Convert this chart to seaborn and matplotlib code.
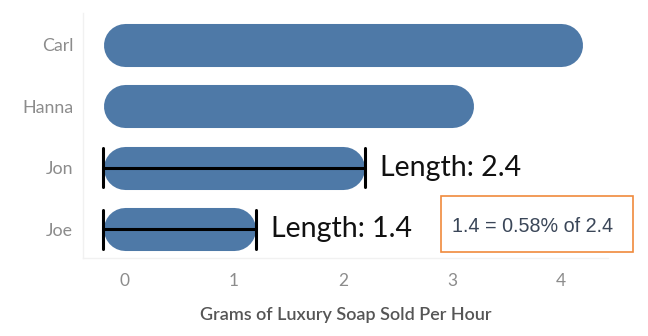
import matplotlib
matplotlib.use("Agg")
import matplotlib.pyplot as plt
from matplotlib.patches import Rectangle
import seaborn as sns
import pandas as pd

# ---- data ----
names = ["Carl", "Hanna", "Jon", "Joe"]
values = [4, 3, 2, 1]
x_ticks = [0, 1, 2, 3, 4]
measured_names = ["Jon", "Joe"]
measured_lengths = [2.4, 1.4]
x_label = "Grams of Luxury Soap Sold Per Hour"
note_text = "1.4 = 0.58% of 2.4"

BAR_COLOR = "#4e79a7"
BAR_LW = 31  # points (rounded bar thickness)

sns.set_theme(style="white")
plt.rcParams["font.family"] = ["Lato", "DejaVu Sans"]

fig = plt.figure(figsize=(6.48, 3.36), dpi=100)
ax = fig.add_axes([83 / 648, 1 - 258 / 336, (608 - 83) / 648, (258 - 13) / 336])

df = pd.DataFrame({"name": names, "value": values})
sns.barplot(data=df, x="value", y="name", orient="h", ax=ax, color=BAR_COLOR)

ax.set_xlim(-0.385, 4.43)
ax.set_ylim(3.47, -0.52)

# px per data unit for cap radius
p0 = ax.transData.transform((0, 0))
p1 = ax.transData.transform((1, 1))
px_x = p1[0] - p0[0]
px_y = abs(p1[1] - p0[1])
r = (BAR_LW * 100 / 72 / 2) / px_x

centers = {}
for patch, name in zip(ax.patches, names):
    y = patch.get_y() + patch.get_height() / 2
    w = patch.get_width()
    patch.set_visible(False)
    centers[name] = (y, w)
    ax.plot([0, w], [y, y], color=BAR_COLOR, lw=BAR_LW, solid_capstyle="round", zorder=2)

tick_half = (19.5 / px_y)
for name, length in zip(measured_names, measured_lengths):
    y, w = centers[name]
    x0, x1 = -r, w + r
    ax.plot([x0, x1], [y, y], color="black", lw=2.2, zorder=3, solid_capstyle="butt")
    ax.plot([x0, x0], [y - tick_half, y + tick_half], color="black", lw=2.2, zorder=3)
    ax.plot([x1, x1], [y - tick_half, y + tick_half], color="black", lw=2.2, zorder=3)
    ax.text(x1 + 15 / px_x, y, f"Length: {length}", fontsize=20.5, va="center", ha="left",
            color="#111111", zorder=4)

ax.set_xticks(x_ticks)
ax.set_xticklabels([str(t) for t in x_ticks])
ax.tick_params(axis="x", length=0, pad=11, labelsize=12.5, labelcolor="#8c8c8c")
ax.tick_params(axis="y", length=0, pad=7, labelsize=12.8, labelcolor="#8c8c8c")
ax.set_ylabel("")
ax.set_xlabel(x_label, fontsize=13, color="#555555", fontweight="semibold", labelpad=13)

for s in ["top", "right"]:
    ax.spines[s].set_visible(False)
for s in ["left", "bottom"]:
    ax.spines[s].set_color("#f1f1f1")
    ax.spines[s].set_linewidth(1)

# note box
fig.add_artist(Rectangle((441 / 648, 1 - 252 / 336), (633 - 441) / 648, (252 - 196) / 336,
                         transform=fig.transFigure, facecolor="white", edgecolor="#f08a3c",
                         lw=1.2, zorder=5))
fig.text(452 / 648, 1 - 226 / 336, note_text, fontsize=14.2, va="center", ha="left",
         color="#3a4658", family=["Liberation Sans", "DejaVu Sans"], zorder=6)

fig.savefig("out.png", dpi=100)
